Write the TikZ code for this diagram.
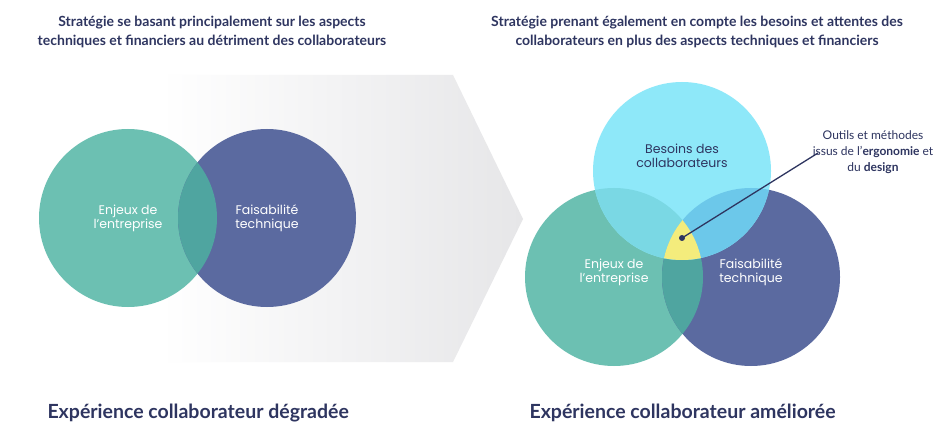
\documentclass[tikz,border=0pt]{standalone}
\usepackage{fontspec}
\setmainfont{Lato}
\newfontfamily\roundf{Poppins}
\definecolor{txt}{HTML}{2E3560}
\definecolor{cgreen}{HTML}{6CC0B2}
\definecolor{cblue}{HTML}{5B6AA0}
\definecolor{ccyan}{HTML}{8EE8F9}
\definecolor{cgb}{HTML}{4FA5A0}
\definecolor{ccg}{HTML}{7AD8E4}
\definecolor{ccb}{HTML}{6CC8EA}
\definecolor{cyel}{HTML}{F4EC7C}
\definecolor{agrey}{HTML}{E6E6E8}
\begin{document}
\begin{tikzpicture}[x=1pt,y=-1pt,
  circ/.style={circle,minimum size=178pt,inner sep=0pt,draw=none},
  lab/.style={text=white,font=\roundf\fontsize{12.5}{14}\selectfont,align=center},
  head/.style={text=txt,font=\fontsize{14}{19}\selectfont\bfseries,align=center},
  foot/.style={text=txt,font=\fontsize{19.5}{22}\selectfont\bfseries,anchor=west}]
\useasboundingbox (0,0) rectangle (941,443);
\fill[white] (0,0) rectangle (941,443);
% arrow band
\shade[left color=white,right color=agrey] (160,75) -- (453,75) -- (523,219) -- (453,362) -- (160,362) -- cycle;
% left circles
\node[circ,fill=cgreen] (g1) at (128,218) {};
\node[circ,fill=cblue] (b1) at (267,218) {};
\begin{scope}
\clip (128,218) circle (89);
\fill[cgb] (267,218) circle (89);
\end{scope}
\node[lab] (tg1) at (128,218) {Enjeux de\\l’entreprise};
\node[lab] (tb1) at (267,218) {Faisabilité\\technique};
% right circles
\node[circ,fill=cgreen] (g2) at (614,277) {};
\node[circ,fill=cblue] (b2) at (751,277) {};
\begin{scope}
\clip (614,277) circle (89);
\fill[cgb] (751,277) circle (89);
\end{scope}
\node[circ,fill=ccyan] (c2) at (682,171) {};
\begin{scope}
\clip (682,171) circle (89);
\fill[ccg] (614,277) circle (89);
\fill[ccb] (751,277) circle (89);
\clip (614,277) circle (89);
\fill[cyel] (751,277) circle (89);
\end{scope}
\node[lab,text=txt] (tc2) at (682,156) {Besoins des\\collaborateurs};
\node[lab] (tg2) at (614,272) {Enjeux de\\l’entreprise};
\node[lab] (tb2) at (751,272) {Faisabilité\\technique};
\coordinate (dot) at (682,238);
\node[text=txt,font=\fontsize{12}{16}\selectfont,align=center] (tout) at (873,152)
  {Outils et méthodes\\issus de l’\textbf{ergonomie} et\\du \textbf{design}};
\draw[txt,line width=1.3pt] (dot) -- (818,153);
\fill[txt] (dot) circle (3);
% headings
\node[head] (h1) at (212,32) {Stratégie se basant principalement sur les aspects\\techniques et financiers au détriment des collaborateurs};
\node[head] (h2) at (697,32) {Stratégie prenant également en compte les besoins et attentes des\\collaborateurs en plus des aspects techniques et financiers};
\node[foot] (f1) at (44,413) {Expérience collaborateur dégradée};
\node[foot] (f2) at (526,413) {Expérience collaborateur améliorée};
\end{tikzpicture}
\end{document}
